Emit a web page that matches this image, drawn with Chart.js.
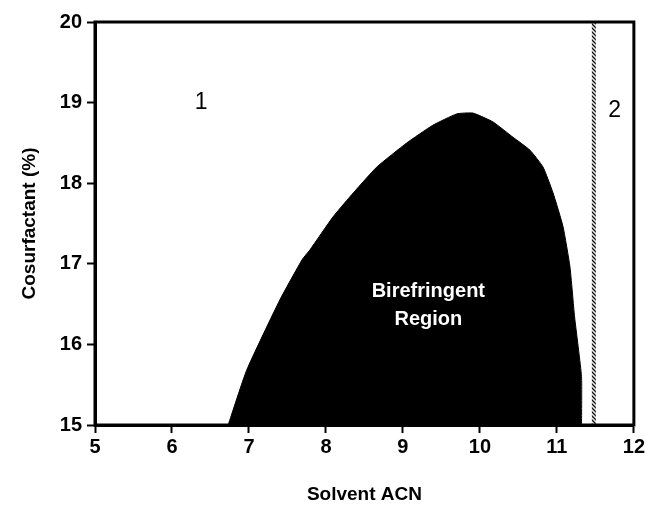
<!DOCTYPE html>
<html>
<head>
<meta charset="utf-8">
<script src="https://cdn.jsdelivr.net/npm/chart.js@4"></script>
<style>
  html, body { margin: 0; padding: 0; background: #fff; }
  #wrap { width: 647px; height: 506px; }
</style>
</head>
<body>
<div id="wrap"><canvas id="phaseChart"></canvas></div>
<script>
// boundary of the birefringent region (solvent ACN, cosurfactant %)
const boundaryX = [6.73, 6.97, 7.40, 7.69, 7.79, 8.09, 8.31, 8.66, 9.05, 9.39, 9.70, 9.91,
                   10.17, 10.43, 10.65, 10.82, 10.95, 11.08, 11.17, 11.23, 11.32, 11.32];
const boundaryY = [15.0, 15.68, 16.55, 17.05, 17.17, 17.58, 17.83, 18.20, 18.50, 18.72, 18.86, 18.87,
                   18.76, 18.57, 18.41, 18.20, 17.88, 17.46, 16.96, 16.34, 15.60, 15.0];
// phase separation line
const separatorX = [11.48, 11.48];
const separatorY = [15, 20];
const xTicks = [5, 6, 7, 8, 9, 10, 11, 12];
const yTicks = [15, 16, 17, 18, 19, 20];
// region labels
const regionLabels = [
    { text: '1', x: 6.38, y: 19.0, font: '23px "Liberation Sans", Arial, sans-serif', color: '#000' },
    { text: '2', x: 11.75, y: 18.9, font: '23px "Liberation Sans", Arial, sans-serif', color: '#000' },
    { text: 'Birefringent', x: 9.33, y: 16.66, font: 'bold 20px "Liberation Sans", Arial, sans-serif', color: '#fff' },
    { text: 'Region', x: 9.33, y: 16.31, font: 'bold 20px "Liberation Sans", Arial, sans-serif', color: '#fff' }
];

document.addEventListener('DOMContentLoaded', function() {
    // hatched pattern for the separator line
    const pc = document.createElement('canvas');
    pc.width = 4; pc.height = 4;
    const p = pc.getContext('2d');
    p.fillStyle = '#eee';
    p.fillRect(0, 0, 4, 4);
    p.strokeStyle = '#111';
    p.lineWidth = 1.3;
    p.beginPath();
    p.moveTo(0, 0); p.lineTo(4, 4);
    p.moveTo(-1, 3); p.lineTo(1, 5);
    p.moveTo(3, -1); p.lineTo(5, 1);
    p.stroke();

    const ctx = document.getElementById('phaseChart').getContext('2d');
    const hatch = ctx.createPattern(pc, 'repeat');

    const labelsPlugin = {
        id: 'regionLabels',
        afterDatasetsDraw(chart) {
            const c = chart.ctx;
            const xs = chart.scales.x, ys = chart.scales.y;
            c.save();
            c.textAlign = 'center';
            c.textBaseline = 'middle';
            regionLabels.forEach(function(l) {
                c.font = l.font;
                c.fillStyle = l.color;
                c.fillText(l.text, xs.getPixelForValue(l.x), ys.getPixelForValue(l.y));
            });
            const a = chart.chartArea;
            c.strokeStyle = '#000';
            c.lineWidth = 3;
            c.strokeRect(a.left, a.top, a.right - a.left, a.bottom - a.top);
            c.restore();
        }
    };

    new Chart(ctx, {
        type: 'scatter',
        data: {
            datasets: [{
                data: boundaryX.map((x, i) => ({ x: x, y: boundaryY[i] })),
                showLine: true,
                borderColor: '#000',
                borderWidth: 1,
                backgroundColor: '#000',
                pointRadius: 0,
                tension: 0.15,
                fill: 'start'
            }, {
                data: separatorX.map((x, i) => ({ x: x, y: separatorY[i] })),
                showLine: true,
                borderColor: hatch,
                borderWidth: 4,
                pointRadius: 0,
                fill: false
            }]
        },
        options: {
            responsive: true,
            maintainAspectRatio: false,
            animation: false,
            layout: { padding: { top: 22, right: 13, left: 0, bottom: 0 } },
            plugins: {
                legend: { display: false },
                tooltip: { enabled: false }
            },
            scales: {
                x: {
                    type: 'linear',
                    min: 5,
                    max: 12,
                    afterFit: function(s) { s.height = 81; },
                    afterBuildTicks: function(s) { s.ticks = xTicks.map(v => ({ value: v })); },
                    border: { display: true, color: '#000', width: 3 },
                    grid: { drawOnChartArea: false, color: '#000', tickLength: 8, tickWidth: 2 },
                    ticks: {
                        color: '#000',
                        padding: 2,
                        font: { family: '"Liberation Sans", Arial, sans-serif', size: 20, weight: 'bold' }
                    },
                    title: {
                        display: true,
                        text: 'Solvent ACN',
                        color: '#000',
                        padding: { top: 0, bottom: 0 },
                        font: { family: '"Liberation Sans", Arial, sans-serif', size: 19, weight: 'bold' }
                    }
                },
                y: {
                    type: 'linear',
                    min: 15,
                    max: 20,
                    afterFit: function(s) { s.width = 95; },
                    afterBuildTicks: function(s) { s.ticks = yTicks.map(v => ({ value: v })); },
                    border: { display: true, color: '#000', width: 3 },
                    grid: { drawOnChartArea: false, color: '#000', tickLength: 8, tickWidth: 2 },
                    ticks: {
                        color: '#000',
                        padding: 5,
                        font: { family: '"Liberation Sans", Arial, sans-serif', size: 20, weight: 'bold' }
                    },
                    title: {
                        display: true,
                        text: 'Cosurfactant (%)',
                        color: '#000',
                        padding: { top: 18, bottom: 0 },
                        font: { family: '"Liberation Sans", Arial, sans-serif', size: 19, weight: 'bold' }
                    }
                }
            }
        },
        plugins: [labelsPlugin]
    });
});
</script>
</body>
</html>
